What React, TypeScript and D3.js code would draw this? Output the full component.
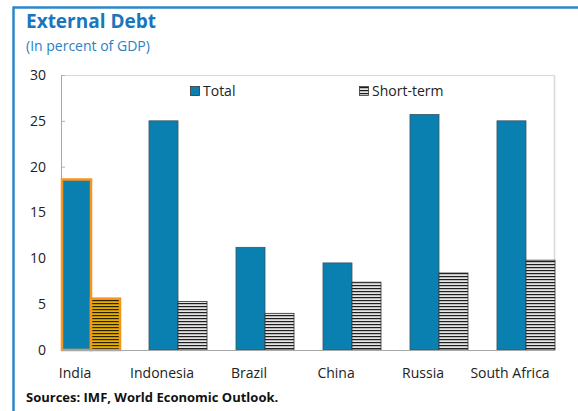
import React from "react";
import * as d3 from "d3";

const categories = ["India", "Indonesia", "Brazil", "China", "Russia", "South Africa"];
const totalValues = [18.6, 25.0, 11.2, 9.5, 25.7, 25.0];
const shortTermValues = [5.6, 5.3, 4.0, 7.4, 8.4, 9.8];
const yTicks = [0, 5, 10, 15, 20, 25, 30];
const highlighted = "India";

const W = 578;
const H = 411;
const M = { left: 61, right: 554, top: 75, bottom: 350 };
const FONT = "'Open Sans', 'Noto Sans', sans-serif";

export default function App() {
  const x = d3
    .scaleBand<string>()
    .domain(categories)
    .range([M.left + 1, M.right + 1])
    .paddingInner(0.333)
    .paddingOuter(0);
  const y = d3.scaleLinear().domain([0, 30]).range([M.bottom, M.top]);
  const bw = x.bandwidth() / 2;

  return (
    <svg width={W} height={H} style={{ position: "absolute", left: 0, top: 0, background: "#fff" }}>
      <defs>
        <pattern id="stripes" patternUnits="userSpaceOnUse" width={6} height={3}>
          <rect width={6} height={3} fill="#e4e4e4" />
          <rect width={6} height={1.2} fill="#1e1e1e" />
        </pattern>
        <pattern id="stripesHi" patternUnits="userSpaceOnUse" width={6} height={3}>
          <rect width={6} height={3} fill="#e6b000" />
          <rect width={6} height={1.2} fill="#2a2000" />
        </pattern>
      </defs>
      {/* outer frame */}
      <line x1={13} x2={W} y1={7.5} y2={7.5} stroke="#2e86c8" strokeWidth={2.5} />
      <line x1={13.5} x2={13.5} y1={6.5} y2={H} stroke="#2e86c8" strokeWidth={2.5} />

      <text x={26} y={28} fontFamily={FONT} fontWeight={700} fontSize={19} fill="#1a75bc">
        External Debt
      </text>
      <text x={26} y={51} fontFamily={FONT} fontSize={14} fill="#2a7fc4">
        (In percent of GDP)
      </text>

      {/* plot frame */}
      <line x1={M.left} x2={M.right} y1={M.top + 0.5} y2={M.top + 0.5} stroke="#d9d9d9" />
      <line x1={M.right + 0.5} x2={M.right + 0.5} y1={M.top} y2={M.bottom} stroke="#d9d9d9" strokeWidth={1.5} />

      {/* y ticks */}
      {yTicks.map((t) => (
        <g key={t}>
          <line x1={M.left} x2={M.left + 4} y1={y(t) + 0.5} y2={y(t) + 0.5} stroke="#b0b0b0" />
          <text x={46} y={y(t)} dy="0.35em" textAnchor="end" fontFamily={FONT} fontSize={14} fill="#222">
            {t}
          </text>
        </g>
      ))}

      {/* bars */}
      {categories.map((c, i) => {
        const x0 = x(c) as number;
        const hi = c === highlighted;
        return (
          <g key={c}>
            <rect
              x={x0}
              y={y(totalValues[i])}
              width={bw}
              height={y(0) - y(totalValues[i])}
              fill="#0a80b0"
              stroke={hi ? "#f7941d" : "#3a5560"}
              strokeWidth={hi ? 2.5 : 0.8}
            />
            <rect
              x={x0 + bw}
              y={y(shortTermValues[i])}
              width={bw}
              height={y(0) - y(shortTermValues[i])}
              fill={hi ? "url(#stripesHi)" : "url(#stripes)"}
              stroke={hi ? "#f7941d" : "#333"}
              strokeWidth={hi ? 2.5 : 0.8}
            />
            <text
              x={x0 + x.bandwidth() * 0.225}
              y={373}
              dy="0.35em"
              textAnchor="middle"
              fontFamily={FONT}
              fontSize={14}
              fill="#222"
            >
              {c}
            </text>
          </g>
        );
      })}

      {/* axes */}
      <line x1={M.left + 0.5} x2={M.left + 0.5} y1={M.top} y2={M.bottom} stroke="#a8a8a8" />
      <line x1={M.left} x2={M.right + 1} y1={M.bottom + 0.5} y2={M.bottom + 0.5} stroke="#a8a8a8" />

      {/* legend */}
      <rect x={190.5} y={86.5} width={9} height={9} fill="#0a80b0" stroke="#333" strokeWidth={0.8} />
      <text x={203} y={91} dy="0.35em" fontFamily={FONT} fontSize={14} fill="#222">
        Total
      </text>
      <rect x={359.5} y={86.5} width={9} height={9} fill="url(#stripes)" stroke="#333" strokeWidth={0.8} />
      <text x={372} y={91} dy="0.35em" fontFamily={FONT} fontSize={14} fill="#222">
        Short-term
      </text>

      <text x={26} y={402} fontFamily={FONT} fontWeight={700} fontSize={13} fill="#111">
        Sources: IMF, World Economic Outlook.
      </text>
    </svg>
  );
}
